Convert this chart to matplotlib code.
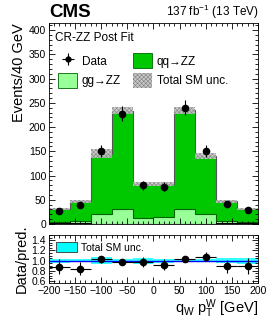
import numpy as np
import matplotlib.pyplot as plt
from matplotlib.patches import Patch
from matplotlib.ticker import MultipleLocator

plt.rcParams['font.family'] = ['Liberation Sans', 'DejaVu Sans']
plt.rcParams['mathtext.fontset'] = 'custom'
plt.rcParams['mathtext.rm'] = 'Liberation Sans'
plt.rcParams['mathtext.it'] = 'Liberation Sans'
plt.rcParams['hatch.linewidth'] = 0.4

# binning: q_W * pT^W, 40 GeV bins
edges = [-200, -160, -120, -80, -40, 0, 40, 80, 120, 160, 200]
centers = [-180, -140, -100, -60, -20, 20, 60, 100, 140, 180]

# post-fit expectations
other = [2, 2, 1, 1, 1, 1, 1, 1, 2, 2]
gg_zz = [3, 4, 20, 30, 11, 13, 30, 20, 5, 3]
qq_zz = [26, 41, 124, 203, 70, 69, 204, 119, 40, 26]
tot_unc = [3, 3, 9, 7, 4, 4, 7, 6, 3, 3]

# data
data = [27, 40, 150, 228, 80, 77, 240, 150, 42, 28]
data_err = [5, 6, 12, 15, 9, 9, 15, 12, 6, 5]

# ratio panel
ratio = [0.88, 0.84, 1.03, 0.98, 0.97, 0.92, 1.04, 1.08, 0.89, 0.89]
ratio_err = [0.15, 0.13, 0.07, 0.06, 0.10, 0.11, 0.06, 0.08, 0.13, 0.16]
ratio_unc = [0.04, 0.03, 0.07, 0.04, 0.06, 0.04, 0.03, 0.03, 0.05, 0.06]

fig = plt.figure(figsize=(2.7, 3.27), dpi=100)
ax = fig.add_axes([0.181, 0.315, 0.775, 0.615])
rax = fig.add_axes([0.181, 0.135, 0.775, 0.147])

widths = np.diff(edges)
b1 = np.array(other)
b2 = b1 + np.array(gg_zz)
b3 = b2 + np.array(qq_zz)

ax.bar(edges[:-1], qq_zz, width=widths, bottom=b2, align='edge',
       color='#00c800', lw=0)
ax.bar(edges[:-1], gg_zz, width=widths, bottom=b1, align='edge',
       color='#99ff99', lw=0)
ax.bar(edges[:-1], other, width=widths, align='edge', color='#1f5f1f', lw=0)
ax.stairs(b3, edges, color='#555555', lw=0.8)
ax.stairs(b2, edges, color='#006400', lw=0.8)
ax.stairs(b1, edges, color='black', lw=0.8)

unc = np.array(tot_unc)
ax.bar(edges[:-1], 2 * unc, width=widths, bottom=b3 - unc, align='edge',
       facecolor='#c8c8c8', edgecolor='#808080', hatch='xxxxxxxx', lw=0,
       alpha=0.9)

ax.errorbar(centers, data, yerr=data_err, fmt='o', color='black', ms=4.5,
            elinewidth=0.8, capsize=0)

ax.set_xlim(-200, 200)
ax.set_ylim(0, 415)
ax.set_ylabel('Events/40 GeV', fontsize=10.5, loc='top', labelpad=2)
ax.tick_params(labelbottom=False)

for a in (ax, rax):
    a.tick_params(direction='in', which='both', top=True, right=True,
                  labelsize=7.5, width=0.6, pad=2)
    a.tick_params(which='major', length=4)
    a.tick_params(which='minor', length=2)
    a.xaxis.set_major_locator(MultipleLocator(50))
    a.xaxis.set_minor_locator(MultipleLocator(10))
    for s in a.spines.values():
        s.set_linewidth(0.6)

ax.yaxis.set_major_locator(MultipleLocator(50))
ax.yaxis.set_minor_locator(MultipleLocator(10))

ax.text(0.03, 0.955, 'CR-ZZ Post Fit', transform=ax.transAxes, fontsize=8.5,
        va='top', ha='left')

h_data = ax.errorbar([], [], yerr=[], xerr=[], fmt='o', color='black', ms=3.5,
                     elinewidth=0.8)
h_gg = Patch(facecolor='#99ff99', edgecolor='#006400', lw=0.6)
h_qq = Patch(facecolor='#00c800', edgecolor='#006400', lw=0.6)
h_unc = Patch(facecolor='#c8c8c8', edgecolor='#808080', hatch='xxxxxxxx', lw=0)
ax.legend([h_data, h_gg, h_qq, h_unc],
          ['Data', 'gg\u2192ZZ', 'qq\u2192ZZ', 'Total SM unc.'],
          ncol=2, loc='upper left', bbox_to_anchor=(0.0, 0.895), frameon=False,
          fontsize=8.5, handlelength=1.6, handleheight=1.5, columnspacing=1.0,
          labelspacing=0.45, handletextpad=0.4, borderpad=0.3)

fig.text(0.181, 0.935, 'CMS', fontsize=13.5, fontweight='bold', ha='left',
         va='bottom')
fig.text(0.958, 0.935, '137 fb$^{-1}$ (13 TeV)', fontsize=8.5, ha='right',
         va='bottom')

# ratio panel
runc = np.array(ratio_unc)
rax.bar(edges[:-1], 2 * runc, width=widths, bottom=1 - runc, align='edge',
        color='#00ffff', lw=0, alpha=0.8)
rax.axhline(1.0, color='#0000ff', lw=1.0)
rax.errorbar(centers, ratio, yerr=ratio_err, xerr=20, fmt='o', color='black',
             ms=4.5, elinewidth=0.8, capsize=0)
rax.set_xlim(-200, 200)
rax.set_ylim(0.56, 1.51)
rax.yaxis.set_major_locator(MultipleLocator(0.2))
rax.yaxis.set_minor_locator(MultipleLocator(0.05))
rax.yaxis.set_major_formatter(plt.FormatStrFormatter('%.1f'))
rax.set_ylabel('Data/pred.', fontsize=10.5, labelpad=2)
rax.set_xlabel('$\\mathregular{q_{W}\\ p_{T}^{W}}$ [GeV]', fontsize=10.5,
               loc='right', labelpad=1)
rax.legend([Patch(facecolor='#00ffff', edgecolor='#333333', lw=0.6)],
           ['Total SM unc.'], loc='upper left', frameon=False, fontsize=7.5,
           handlelength=2.0, handleheight=1.1, handletextpad=0.4,
           borderpad=0.2)

fig.align_ylabels([ax, rax])
fig.savefig('out.png', dpi=100)
